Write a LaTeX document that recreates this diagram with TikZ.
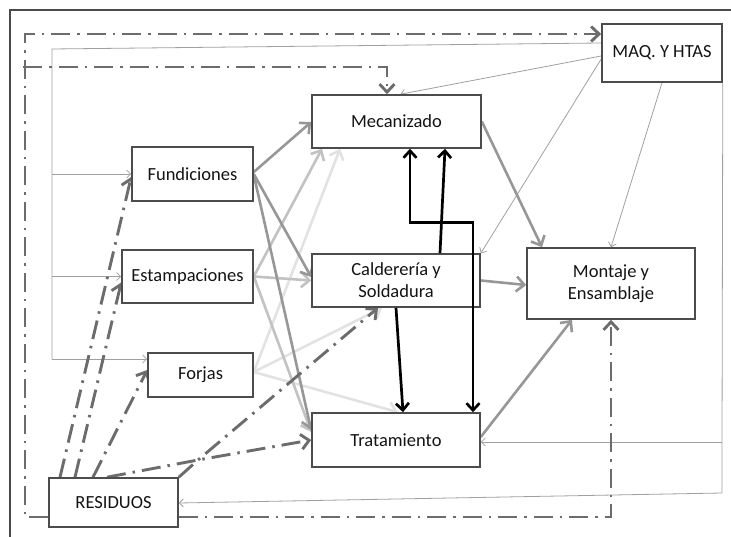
\documentclass[tikz,border=0pt]{standalone}
\usepackage{fontspec}
\setmainfont{Carlito}
\usetikzlibrary{arrows.meta,backgrounds}
\definecolor{boxc}{HTML}{4C4C4C}
\definecolor{txt}{HTML}{141414}
\definecolor{thinc}{HTML}{A0A0A0}
\definecolor{ddc}{HTML}{6C6C6C}
\definecolor{medc}{HTML}{979797}
\definecolor{lightc}{HTML}{C2C2C2}
\definecolor{vlightc}{HTML}{E2E2E2}
\definecolor{framec}{HTML}{4A4A4A}
\tikzset{
  box/.style={draw=boxc, line width=1.6pt, fill=white, inner sep=0pt, align=center,
    font=\fontsize{18.5}{22}\selectfont, text=txt},
  thinl/.style={draw=thinc, line width=0.8pt},
  thin/.style={thinl, -{Straight Barb[length=4pt,width=8pt]}},
  ddl/.style={draw=ddc, line width=2.9pt, dash pattern=on 19pt off 7pt on 2.5pt off 7pt},
  dd/.style={ddl, -{Straight Barb[length=8pt,width=15pt]}},
  med/.style={draw=medc, line width=2.6pt, -{Straight Barb[length=8pt,width=15pt]}},
  lig/.style={draw=lightc, line width=2.6pt, -{Straight Barb[length=8pt,width=15pt]}},
  vlig/.style={draw=vlightc, line width=2.6pt, -{Straight Barb[length=8pt,width=15pt]}},
  blk/.style={draw=black, line width=2.7pt, -{Straight Barb[length=7pt,width=13pt]}},
}
\begin{document}
\begin{tikzpicture}[x=1pt,y=-1pt]
\useasboundingbox (0,0) rectangle (731,537);
% frame
\draw[framec, line width=1.3pt] (10,537) -- (10,10) -- (731,10);

% nodes
\node[box, minimum width=120pt, minimum height=58pt] (maq) at (662,53) {MAQ. Y HTAS};
\node[box, minimum width=169pt, minimum height=53pt] (mec) at (396.5,121.5) {Mecanizado};
\node[box, minimum width=121pt, minimum height=54pt] (fund) at (192.5,174) {Fundiciones};
\node[box, minimum width=131pt, minimum height=53pt] (estamp) at (187.5,276.5) {Estampaciones};
\node[box, minimum width=168pt, minimum height=53pt] (cald) at (396,280.5) {Calderería y\\Soldadura};
\node[box, minimum width=168pt, minimum height=71pt] (mont) at (611,283.5) {Montaje y\\Ensamblaje};
\node[box, minimum width=105pt, minimum height=44pt] (forjas) at (200.5,375) {Forjas};
\node[box, minimum width=168pt, minimum height=54pt] (trat) at (396,440) {Tratamiento};
\node[box, minimum width=129pt, minimum height=49pt] (res) at (113.5,502.5) {RESIDUOS};

% bend coordinates
\coordinate (tl) at (52,49);
\coordinate (lf) at (52,174);
\coordinate (le) at (52,276.5);
\coordinate (lj) at (52,359);
\coordinate (r1) at (722,442);
\coordinate (r2) at (722,493);
\coordinate (o1) at (25,517);
\coordinate (o2) at (25,34);
\coordinate (o3) at (611,517);
\coordinate (o4) at (23,67);
\coordinate (o5) at (387,67);
\coordinate (k) at (198,460);

\begin{scope}[on background layer]
% thin connectors
\draw[thinl] ([yshift=10pt]maq.west) -- (tl) -- (lj);
\draw[thin] (lj) -- ([yshift=16pt]forjas.west);
\draw[thin] (lf) -- (fund.west);
\draw[thin] (le) -- (estamp.west);
\draw[thin] ([yshift=-3pt]maq.west) -- ([xshift=4pt]mec.north);
\draw[thin] ([yshift=-6pt]maq.west) -- (cald.north east);
\draw[thin] (maq.south) -- (mont.north);
\draw[thinl] (maq.south east) -- (r1) -- (r2);
\draw[thin] (r1) -- ([yshift=-2pt]trat.east);
\draw[thin] (r2) -- ([yshift=-0.5pt]res.east);

% very light
\draw[vlig] ([yshift=3pt]forjas.east) -- ([xshift=-56.5pt]mec.south);
\draw[vlig] ([yshift=3pt]forjas.east) -- ([xshift=-14pt]cald.south);
\draw[vlig] ([yshift=3pt]forjas.east) -- ([xshift=2pt]trat.north);
% light
\draw[lig] (estamp.east) -- ([xshift=-74.5pt]mec.south);
\draw[lig] (estamp.east) -- (cald.west);
\draw[lig] (estamp.east) -- ([yshift=8pt]trat.west);
% medium
\draw[med] ([yshift=2pt]fund.east) -- ([yshift=-0.5pt]mec.west);
\draw[med] (fund.east) -- ([yshift=3.5pt]cald.west);
\draw[med] ([yshift=-1pt]fund.east) -- ([yshift=10pt]trat.west);
\draw[med] (mec.east) -- ([xshift=-69pt]mont.north);
\draw[med] (cald.east) -- ([yshift=-1.5pt]mont.west);
\draw[med] ([yshift=3pt]trat.east) -- ([xshift=-39pt]mont.south);

% dash-dot
\draw[dd] ([yshift=-14.5pt]res.west) -- (o1) -- (o2) -- ([yshift=19pt]maq.west);
\draw[dd] (o4) -- (o5) -- ([xshift=-9.5pt]mec.north);
\draw[dd] ([yshift=-14.5pt]res.east) -- (o3) -- (mont.south);
\draw[dd] ([xshift=-53.5pt]res.north) -- ([yshift=-3pt]fund.west);
\draw[dd] ([xshift=-38.5pt]res.north) -- ([yshift=-6pt]estamp.west);
\draw[dd] ([xshift=-20.5pt]res.north) -- ([yshift=5pt]forjas.west);
\draw[dd] ([xshift=-6.5pt]res.north) -- (k) -- (trat.west);
\draw[dd] (res.north east) -- (k) -- ([xshift=-18pt]cald.south);
\end{scope}

% black
\draw[blk] ([xshift=44pt]cald.north) -- ([xshift=48.5pt]mec.south);
\draw[blk] (cald.south) -- ([xshift=7pt]trat.north);
\draw[blk, {Straight Barb[length=7pt,width=13pt]}-{Straight Barb[length=7pt,width=13pt]}]
  ([xshift=13.5pt]mec.south) -- ++(0,74) -| ([xshift=77pt]trat.north);
\end{tikzpicture}
\end{document}
